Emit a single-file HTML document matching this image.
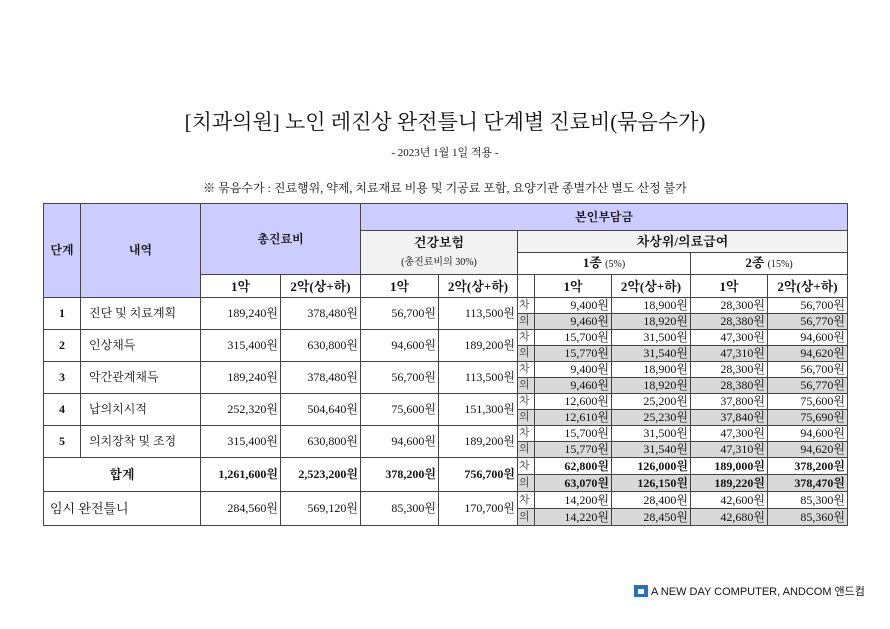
<!DOCTYPE html>
<html><head><meta charset="utf-8">
<style>
body{margin:0;width:890px;height:629px;background:#fff;position:relative;overflow:hidden;font-family:"Liberation Serif","Noto Serif CJK SC",serif;color:#111}
.t{position:absolute;left:0;width:890px;text-align:center}
table{position:absolute;left:43px;top:203px;border-collapse:collapse;table-layout:fixed;font-size:12px}
td{border:1px solid #444;padding:0 2px;white-space:nowrap;text-align:center;overflow:hidden;line-height:13px}
.p{background:#ccccff;font-weight:bold}
.g{background:#f2f2f2}
.h{font-weight:bold;font-size:13px}
.n{text-align:right;padding-right:2px}
.l{font-size:11px;text-align:left;padding:0 1px;color:#333}
.d td.r{background:#d9d9d9}
.b{font-weight:bold}
.sm{font-size:10px;font-weight:normal}
</style></head><body>
<div class="t" style="top:106px;font-size:21px;">[치과의원] 노인 레진상 완전틀니 단계별 진료비(묶음수가)</div>
<div class="t" style="top:144px;font-size:11px;">- 2023년 1월 1일 적용 -</div>
<div class="t" style="top:179px;font-size:12px;">※ 묶음수가 : 진료행위, 약제, 치료재료 비용 및 기공료 포함, 요양기관 종별가산 별도 산정 불가</div>
<table>
<colgroup><col style="width:37px"><col style="width:120px"><col style="width:80px"><col style="width:80px"><col style="width:78px"><col style="width:79px"><col style="width:17px"><col style="width:77px"><col style="width:79px"><col style="width:77px"><col style="width:80px"></colgroup>
<tr style="height:27px"><td class="p" rowspan="4">단계</td><td class="p" rowspan="4">내역</td><td class="p" colspan="2" rowspan="3">총진료비</td><td class="p" colspan="7">본인부담금</td></tr>
<tr style="height:22px"><td class="g h" colspan="2" rowspan="2" style="line-height:18px">건강보험<br><span class="sm">(총진료비의 30%)</span></td><td class="g h" colspan="5">차상위/의료급여</td></tr>
<tr style="height:22px"><td class="h" colspan="3">1종 <span class="sm">(5%)</span></td><td class="h" colspan="2">2종 <span class="sm">(15%)</span></td></tr>
<tr style="height:23px" class="h"><td class="h">1악</td><td class="h">2악(상+하)</td><td class="h">1악</td><td class="h">2악(상+하)</td><td></td><td class="h">1악</td><td class="h">2악(상+하)</td><td class="h">1악</td><td class="h">2악(상+하)</td></tr>

<tr style="height:16px"><td rowspan="2" class="b">1</td><td rowspan="2" style="text-align:left;padding-left:8px">진단 및 치료계획</td><td rowspan="2" class="n">189,240원</td><td rowspan="2" class="n">378,480원</td><td rowspan="2" class="n">56,700원</td><td rowspan="2" class="n">113,500원</td><td class="l">차</td><td class="n">9,400원</td><td class="n">18,900원</td><td class="n">28,300원</td><td class="n">56,700원</td></tr>
<tr style="height:16px" class="d"><td class="l r">의</td><td class="n r">9,460원</td><td class="n r">18,920원</td><td class="n r">28,380원</td><td class="n r">56,770원</td></tr>

<tr style="height:16px"><td rowspan="2" class="b">2</td><td rowspan="2" style="text-align:left;padding-left:8px">인상채득</td><td rowspan="2" class="n">315,400원</td><td rowspan="2" class="n">630,800원</td><td rowspan="2" class="n">94,600원</td><td rowspan="2" class="n">189,200원</td><td class="l">차</td><td class="n">15,700원</td><td class="n">31,500원</td><td class="n">47,300원</td><td class="n">94,600원</td></tr>
<tr style="height:16px" class="d"><td class="l r">의</td><td class="n r">15,770원</td><td class="n r">31,540원</td><td class="n r">47,310원</td><td class="n r">94,620원</td></tr>

<tr style="height:16px"><td rowspan="2" class="b">3</td><td rowspan="2" style="text-align:left;padding-left:8px">악간관계채득</td><td rowspan="2" class="n">189,240원</td><td rowspan="2" class="n">378,480원</td><td rowspan="2" class="n">56,700원</td><td rowspan="2" class="n">113,500원</td><td class="l">차</td><td class="n">9,400원</td><td class="n">18,900원</td><td class="n">28,300원</td><td class="n">56,700원</td></tr>
<tr style="height:16px" class="d"><td class="l r">의</td><td class="n r">9,460원</td><td class="n r">18,920원</td><td class="n r">28,380원</td><td class="n r">56,770원</td></tr>

<tr style="height:16px"><td rowspan="2" class="b">4</td><td rowspan="2" style="text-align:left;padding-left:8px">납의치시적</td><td rowspan="2" class="n">252,320원</td><td rowspan="2" class="n">504,640원</td><td rowspan="2" class="n">75,600원</td><td rowspan="2" class="n">151,300원</td><td class="l">차</td><td class="n">12,600원</td><td class="n">25,200원</td><td class="n">37,800원</td><td class="n">75,600원</td></tr>
<tr style="height:16px" class="d"><td class="l r">의</td><td class="n r">12,610원</td><td class="n r">25,230원</td><td class="n r">37,840원</td><td class="n r">75,690원</td></tr>

<tr style="height:16px"><td rowspan="2" class="b">5</td><td rowspan="2" style="text-align:left;padding-left:8px">의치장착 및 조정</td><td rowspan="2" class="n">315,400원</td><td rowspan="2" class="n">630,800원</td><td rowspan="2" class="n">94,600원</td><td rowspan="2" class="n">189,200원</td><td class="l">차</td><td class="n">15,700원</td><td class="n">31,500원</td><td class="n">47,300원</td><td class="n">94,600원</td></tr>
<tr style="height:16px" class="d"><td class="l r">의</td><td class="n r">15,770원</td><td class="n r">31,540원</td><td class="n r">47,310원</td><td class="n r">94,620원</td></tr>

<tr style="height:17px" class="b"><td rowspan="2" colspan="2" class="h">합계</td><td rowspan="2" class="n">1,261,600원</td><td rowspan="2" class="n">2,523,200원</td><td rowspan="2" class="n">378,200원</td><td rowspan="2" class="n">756,700원</td><td class="l" style="font-weight:normal">차</td><td class="n">62,800원</td><td class="n">126,000원</td><td class="n">189,000원</td><td class="n">378,200원</td></tr>
<tr style="height:17px" class="d b"><td class="l r" style="font-weight:normal">의</td><td class="n r">63,070원</td><td class="n r">126,150원</td><td class="n r">189,220원</td><td class="n r">378,470원</td></tr>

<tr style="height:17px"><td rowspan="2" colspan="2" style="text-align:left;padding-left:6px;font-size:13px">임시 완전틀니</td><td rowspan="2" class="n">284,560원</td><td rowspan="2" class="n">569,120원</td><td rowspan="2" class="n">85,300원</td><td rowspan="2" class="n">170,700원</td><td class="l">차</td><td class="n">14,200원</td><td class="n">28,400원</td><td class="n">42,600원</td><td class="n">85,300원</td></tr>
<tr style="height:17px" class="d"><td class="l r">의</td><td class="n r">14,220원</td><td class="n r">28,450원</td><td class="n r">42,680원</td><td class="n r">85,360원</td></tr>
</table>
<div style="position:absolute;left:634px;top:585px;width:14px;height:12px;background:#2a6fb0"></div>
<div style="position:absolute;left:638px;top:589px;width:6px;height:5px;background:#fff"></div>
<div style="position:absolute;left:651px;top:583px;font-family:'Liberation Sans','Noto Sans CJK KR',sans-serif;font-size:11px;color:#111;white-space:nowrap">A NEW DAY COMPUTER, ANDCOM 앤드컴</div>
</body></html>
